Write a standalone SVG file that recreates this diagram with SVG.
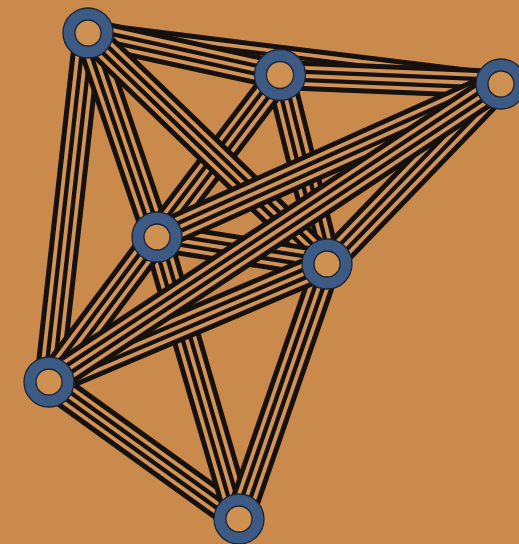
<svg xmlns="http://www.w3.org/2000/svg" width="519" height="544" viewBox="0 0 519 544">
<style>
.bg{fill:#c98a4b}
use{fill:none}
.k{stroke:#16110e;stroke-width:30}
.o{stroke:#d29356;stroke-width:20}
.k2{stroke:#16110e;stroke-width:12.4}
.o2{stroke:#d29356;stroke-width:3.8}
.ring{fill:#cf9152;stroke:#3d5a85;stroke-width:12}
.rim{fill:none;stroke:#1c2535;stroke-width:1.3}
</style>
<defs>
<path id="e16" d="M88 33L49 382"/>
<path id="e13" d="M88 36L501 87"/>
<path id="e12" d="M88 33L280 75"/>
<path id="e23" d="M280 75L501 84"/>
<path id="e14" d="M88 33L157 237"/>
<path id="e25" d="M280 75L327 264"/>
<path id="e15" d="M88 33L327 264"/>
<path id="e24" d="M280 75L157 237"/>
<path id="e35" d="M501 83L327 264"/>
<path id="e45" d="M157 237L327 264"/>
<path id="e36" d="M501 83L49 382"/>
<path id="e34" d="M501 83L157 237"/>
<path id="e56" d="M327 264L49 382"/>
<path id="e46" d="M157 237L49 382"/>
<path id="e47" d="M157 237L239 519"/>
<path id="e57" d="M327 264L239 519"/>
<path id="e67" d="M49 382L239 519"/>
</defs>
<rect class="bg" x="0" y="0" width="519" height="544"/>
<g id="connectors">
<g><use href="#e16" class="k"/><use href="#e16" class="o"/><use href="#e16" class="k2"/><use href="#e16" class="o2"/></g>
<g><use href="#e13" class="k"/><use href="#e13" class="o"/><use href="#e13" class="k2"/><use href="#e13" class="o2"/></g>
<g><use href="#e12" class="k"/><use href="#e12" class="o"/><use href="#e12" class="k2"/><use href="#e12" class="o2"/></g>
<g><use href="#e23" class="k"/><use href="#e23" class="o"/><use href="#e23" class="k2"/><use href="#e23" class="o2"/></g>
<g><use href="#e14" class="k"/><use href="#e14" class="o"/><use href="#e14" class="k2"/><use href="#e14" class="o2"/></g>
<g><use href="#e25" class="k"/><use href="#e25" class="o"/><use href="#e25" class="k2"/><use href="#e25" class="o2"/></g>
<g><use href="#e24" class="k"/><use href="#e24" class="o"/><use href="#e24" class="k2"/><use href="#e24" class="o2"/></g>
<g><use href="#e15" class="k"/><use href="#e15" class="o"/><use href="#e15" class="k2"/><use href="#e15" class="o2"/></g>
<g><use href="#e35" class="k"/><use href="#e35" class="o"/><use href="#e35" class="k2"/><use href="#e35" class="o2"/></g>
<g><use href="#e45" class="k"/><use href="#e45" class="o"/><use href="#e45" class="k2"/><use href="#e45" class="o2"/></g>
<g><use href="#e67" class="k"/><use href="#e67" class="o"/><use href="#e67" class="k2"/><use href="#e67" class="o2"/></g>
<g><use href="#e47" class="k"/><use href="#e47" class="o"/><use href="#e47" class="k2"/><use href="#e47" class="o2"/></g>
<g><use href="#e57" class="k"/><use href="#e57" class="o"/><use href="#e57" class="k2"/><use href="#e57" class="o2"/></g>
<g><use href="#e46" class="k"/><use href="#e46" class="o"/><use href="#e46" class="k2"/><use href="#e46" class="o2"/></g>
<g><use href="#e34" class="k"/><use href="#e34" class="o"/><use href="#e34" class="k2"/><use href="#e34" class="o2"/></g>
<g><use href="#e56" class="k"/><use href="#e56" class="o"/><use href="#e56" class="k2"/><use href="#e56" class="o2"/></g>
<g><use href="#e36" class="k"/><use href="#e36" class="o"/><use href="#e36" class="k2"/><use href="#e36" class="o2"/></g>
</g>
<g id="n1" transform="translate(88,33)"><circle class="ring" r="19"/><circle class="rim" r="25"/><circle class="rim" r="13"/></g>
<g id="n2" transform="translate(280,75)"><circle class="ring" r="19.5"/><circle class="rim" r="25.5"/><circle class="rim" r="13.5"/></g>
<g id="n3" transform="translate(501,84)"><circle class="ring" r="19"/><circle class="rim" r="25"/><circle class="rim" r="13"/></g>
<g id="n4" transform="translate(157,237)"><circle class="ring" r="19"/><circle class="rim" r="25"/><circle class="rim" r="13"/></g>
<g id="n5" transform="translate(327,264)"><circle class="ring" r="19"/><circle class="rim" r="25"/><circle class="rim" r="13"/></g>
<g id="n6" transform="translate(49,382)"><circle class="ring" r="19"/><circle class="rim" r="25"/><circle class="rim" r="13"/></g>
<g id="n7" transform="translate(239,519)"><circle class="ring" r="19"/><circle class="rim" r="25"/><circle class="rim" r="13"/></g>
</svg>
